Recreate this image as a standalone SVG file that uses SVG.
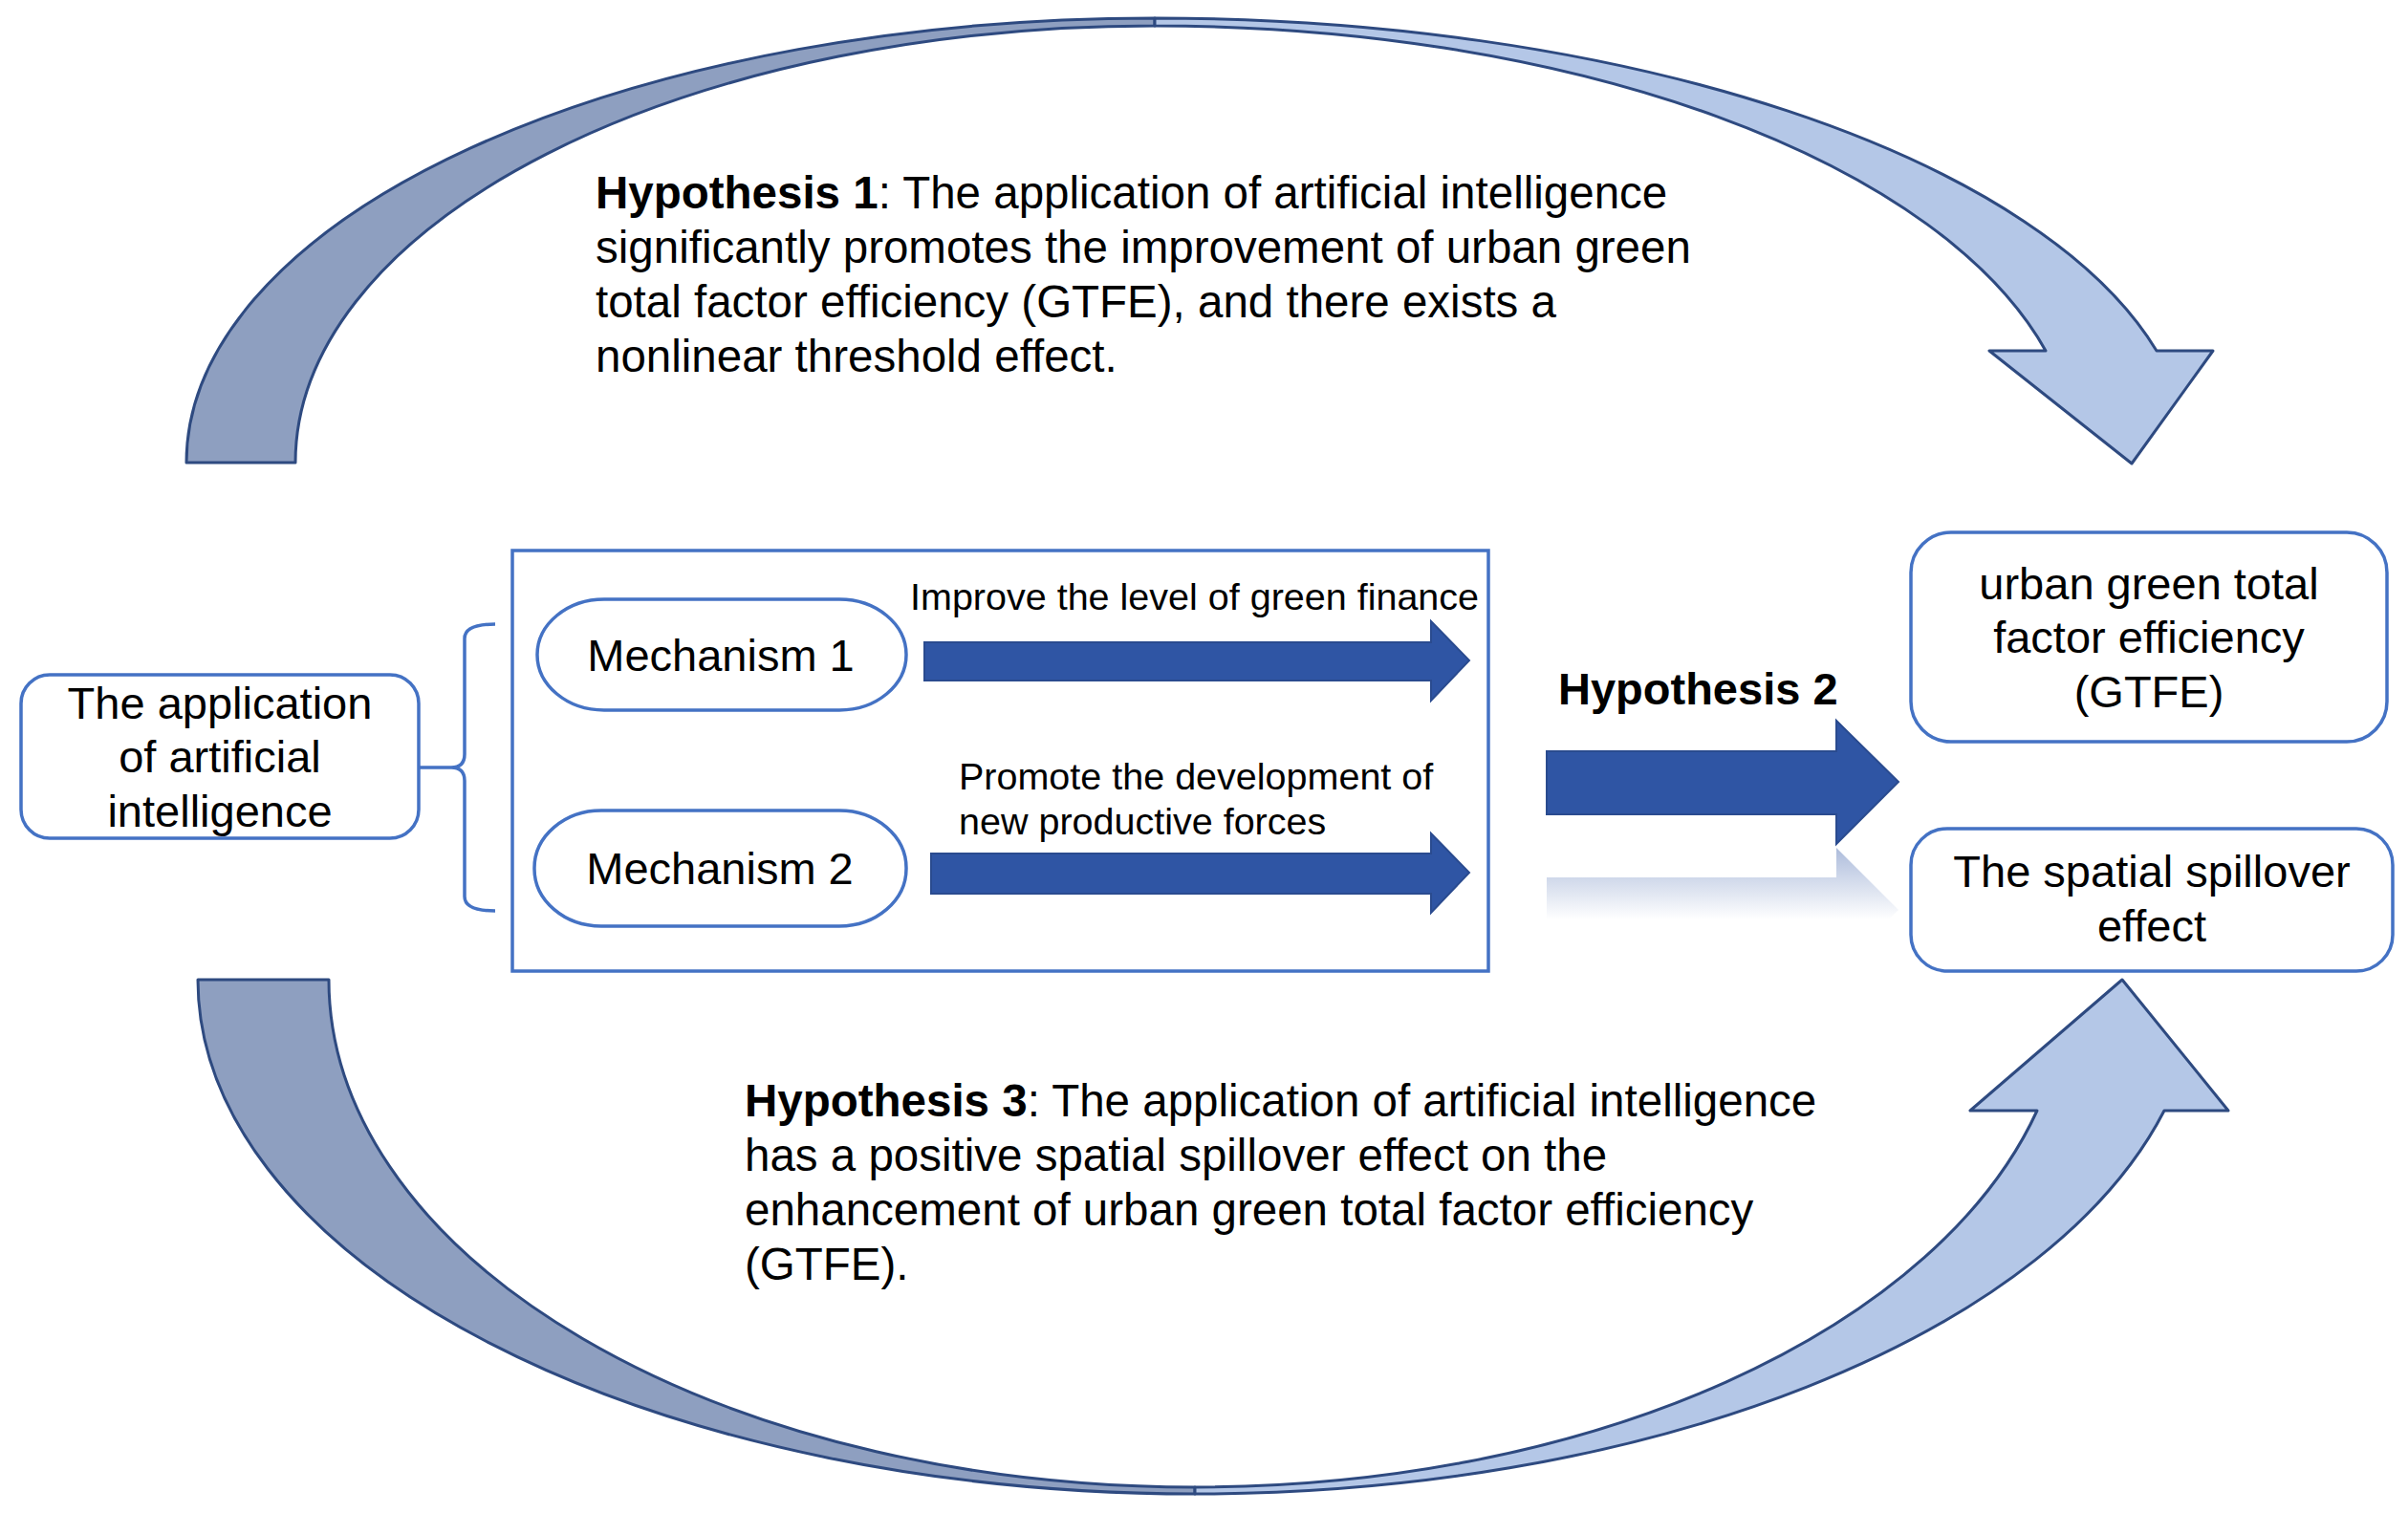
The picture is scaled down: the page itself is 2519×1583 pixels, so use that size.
<svg xmlns="http://www.w3.org/2000/svg" width="2519" height="1583" viewBox="0 0 2519 1583">
<defs>
<style>
.t{font-family:"Liberation Sans",Arial,sans-serif;fill:#000}
.n{font-size:47px}
.h{font-size:47.5px}
.s{font-size:39.5px}
.b{font-weight:bold}
.box{fill:#fff;stroke:#4472C4;stroke-width:3.5}
.back{fill:#8E9FC0;stroke:#2E4A80;stroke-width:3;stroke-linejoin:round}
.front{fill:#B4C7E7;stroke:#2E4A80;stroke-width:3;stroke-linejoin:round}
.blk{fill:#2F55A4;stroke:#2A4B8F;stroke-width:2}
</style>
<linearGradient id="refl" gradientUnits="userSpaceOnUse" x1="0" y1="886" x2="0" y2="962">
<stop offset="0" stop-color="#2F55A4" stop-opacity="0.4"/>
<stop offset="1" stop-color="#2F55A4" stop-opacity="0"/>
</linearGradient>
</defs>
<rect width="2519" height="1583" fill="#fff"/>

<g id="connectors">
<path class="back" d="M195,484 A1013,465 0 0 1 1208,19 L1208,27 A899,457 0 0 0 309,484 Z"/>
<path class="front" d="M1208,19 A1083,465 0 0 1 2256,367 L2315,367 L2230,485 L2081,367 L2140,367 A964,457 0 0 0 1208,27 Z"/>
<path class="back" d="M207,1025 A1043,538 0 0 0 1250,1563 L1250,1556 A906,531 0 0 1 344,1025 Z"/>
<path class="front" d="M1250,1563 A1048.6,538 0 0 0 2264,1162 L2331,1162 L2220,1025 L2061,1162 L2131,1162 A912,531 0 0 1 1250,1556 Z"/>
<path d="M438,803 L472,803 Q486,803 486,789 L486,668 Q486,653 518,653 M472,803 Q486,803 486,817 L486,938 Q486,953 518,953" fill="none" stroke="#4472C4" stroke-width="3.5"/>
<path class="blk" d="M967,672 L1497,672 L1497,650 L1537,691 L1497,733 L1497,712 L967,712 Z"/>
<path class="blk" d="M974,893 L1497,893 L1497,872 L1537,913 L1497,955 L1497,935 L974,935 Z"/>
<path class="blk" d="M1618,786 L1921,786 L1921,754 L1986,818 L1921,883 L1921,852 L1618,852 Z"/>
<path d="M1618,918 L1921,918 L1921,887 L1986,952 L1921,1016 L1921,984 L1618,984 Z" fill="url(#refl)"/>
</g>

<g id="hyp1">
<text class="t h" x="623" y="218"><tspan class="b">Hypothesis 1</tspan>: The application of artificial intelligence</text>
<text class="t h" x="623" y="275">significantly promotes the improvement of urban green</text>
<text class="t h" x="623" y="332">total factor efficiency (GTFE), and there exists a</text>
<text class="t h" x="623" y="389">nonlinear threshold effect.</text>
</g>

<g id="ai">
<rect class="box" x="22" y="706" width="416" height="171" rx="30"/>
<text class="t n" text-anchor="middle" x="230" y="752">The application</text>
<text class="t n" text-anchor="middle" x="230" y="808">of artificial</text>
<text class="t n" text-anchor="middle" x="230" y="865">intelligence</text>
</g>

<g id="mechanisms">
<rect x="536" y="576" width="1021" height="440" fill="none" stroke="#4472C4" stroke-width="3.5"/>
</g>

<g id="mech1">
<rect class="box" x="562" y="627" width="386" height="116" rx="70" ry="58"/>
<text class="t n" text-anchor="middle" x="754" y="702">Mechanism 1</text>
</g>

<g id="mech2">
<rect class="box" x="559" y="848" width="389" height="121" rx="70" ry="60"/>
<text class="t n" text-anchor="middle" x="753" y="925">Mechanism 2</text>
</g>

<g id="label1">
<text class="t s" x="952" y="638">Improve the level of green finance</text>
</g>
<g id="label2">
<text class="t s" x="1003" y="826">Promote the development of</text>
<text class="t s" x="1003" y="873">new productive forces</text>
</g>

<g id="hyp2">
<text class="t n b" x="1630" y="737">Hypothesis 2</text>
</g>

<g id="gtfe">
<rect class="box" x="1999" y="557" width="498" height="219" rx="42"/>
<text class="t n" text-anchor="middle" x="2248" y="627">urban green total</text>
<text class="t n" text-anchor="middle" x="2248" y="683">factor efficiency</text>
<text class="t n" text-anchor="middle" x="2248" y="740">(GTFE)</text>
</g>

<g id="spill">
<rect class="box" x="1999" y="867" width="504" height="149" rx="38"/>
<text class="t n" text-anchor="middle" x="2251" y="928">The spatial spillover</text>
<text class="t n" text-anchor="middle" x="2251" y="985">effect</text>
</g>

<g id="hyp3">
<text class="t h" x="779" y="1168"><tspan class="b">Hypothesis 3</tspan>: The application of artificial intelligence</text>
<text class="t h" x="779" y="1225">has a positive spatial spillover effect on the</text>
<text class="t h" x="779" y="1282">enhancement of urban green total factor efficiency</text>
<text class="t h" x="779" y="1339">(GTFE).</text>
</g>
</svg>
